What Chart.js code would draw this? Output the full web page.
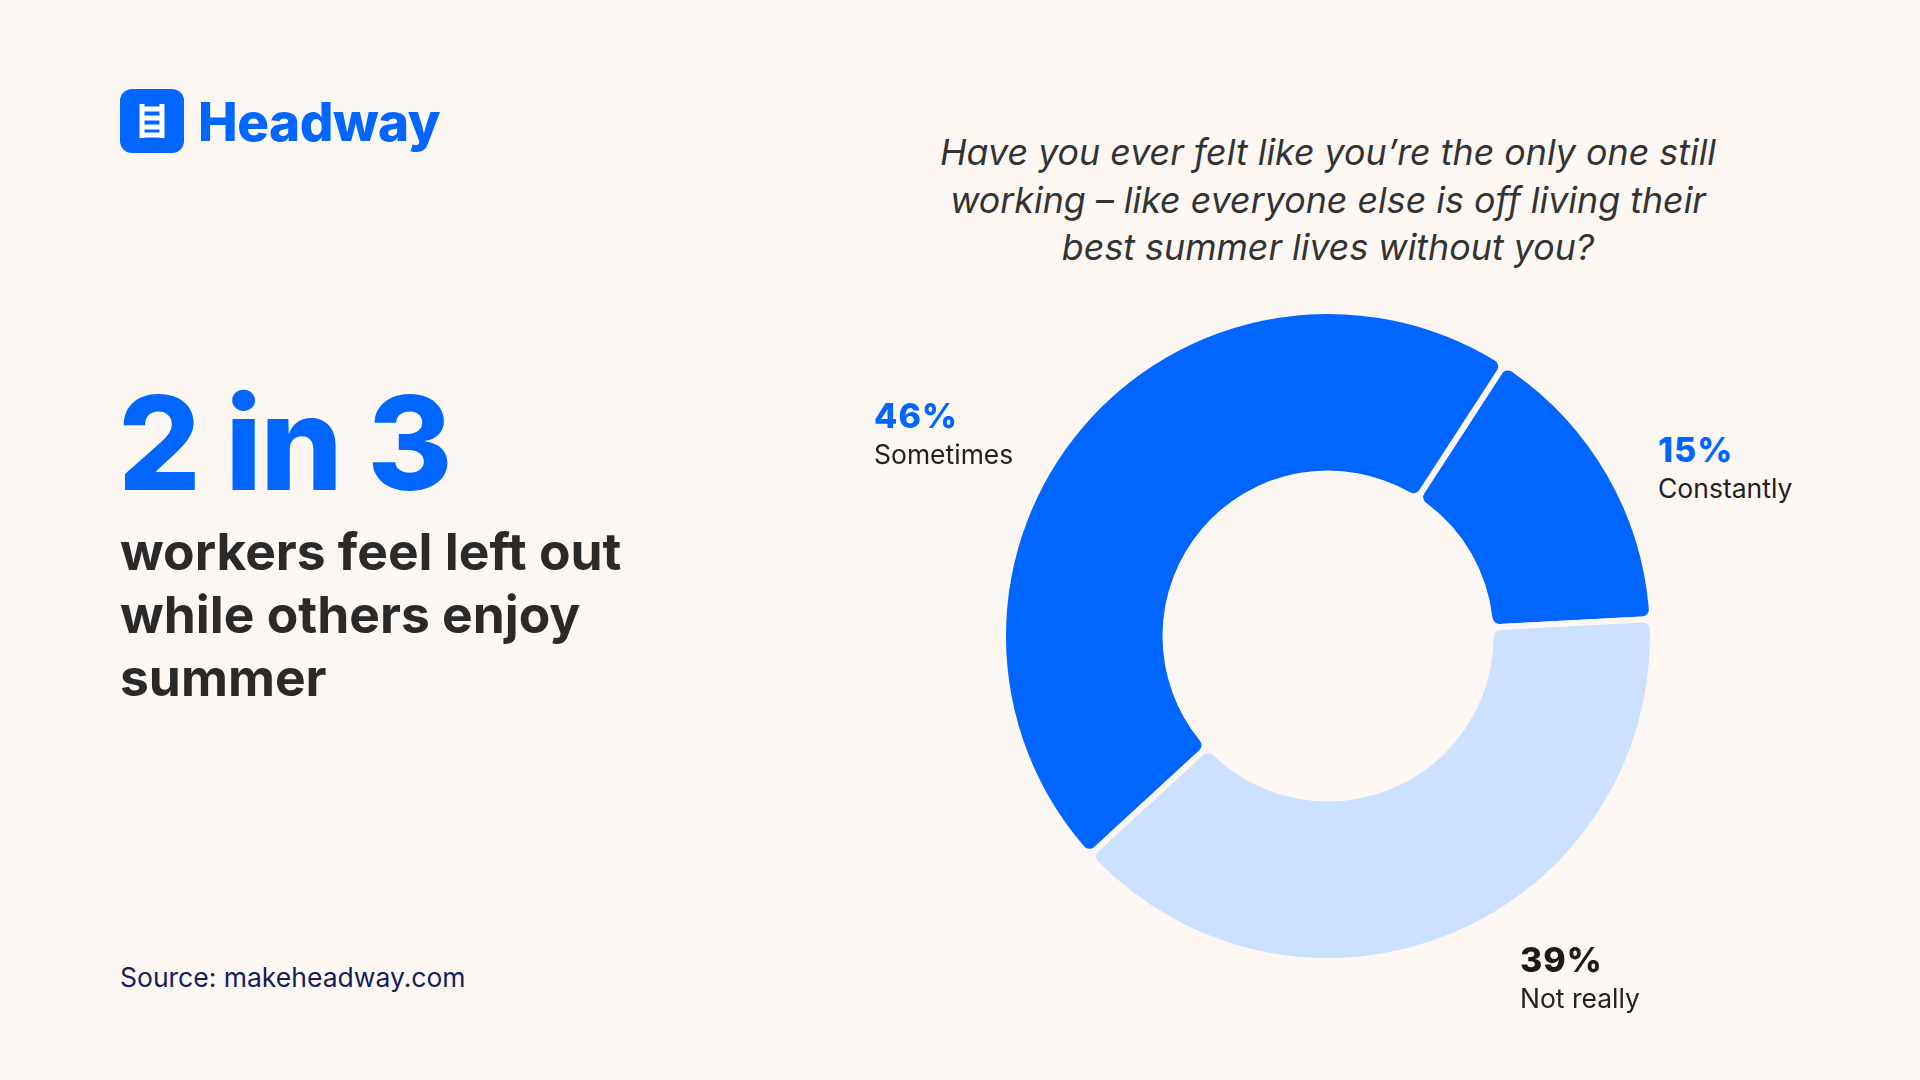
<!DOCTYPE html>
<html><head><meta charset="utf-8">
<script src="https://cdn.jsdelivr.net/npm/chart.js@4"></script>
<style>
body{margin:0;width:1920px;height:1080px;background:#FDF7F4;font-family:Inter,"Noto Sans",sans-serif;position:relative;overflow:hidden}
.a{position:absolute;white-space:nowrap}
</style></head><body>
<svg class="a" style="left:120px;top:89px" width="64" height="64" viewBox="0 0 64 64">
<rect width="64" height="64" rx="12" fill="#0066FF"/>
<g stroke="#fff" stroke-width="5" fill="none"><line x1="22" y1="15" x2="22" y2="49"/><line x1="42" y1="15" x2="42" y2="49"/>
<line x1="22" y1="20" x2="42" y2="20"/><line x1="22" y1="29" x2="42" y2="29"/><line x1="22" y1="38" x2="42" y2="38"/><line x1="22" y1="46" x2="42" y2="46"/></g></svg>
<div class="a" style="left:198px;top:90px;font-size:53px;font-weight:800;color:#0066FF;letter-spacing:-0.5px">Headway</div>
<div class="a" style="left:118px;top:378px;font-size:130px;font-weight:800;color:#0066FF;line-height:1;letter-spacing:-2px">2 in 3</div>
<div class="a" style="left:120px;top:520px;font-size:51.5px;font-weight:700;color:#2a2a2a;line-height:63px">workers feel left out<br>while others enjoy<br>summer</div>
<div class="a" style="left:120px;top:961px;font-size:26.5px;color:#14205a">Source: makeheadway.com</div>
<div class="a" style="left:1328px;top:129px;transform:translateX(-50%);text-align:center;font-size:35.8px;font-style:italic;color:#333;line-height:47.5px">Have you ever felt like you’re the only one still<br>working – like everyone else is off living their<br>best summer lives without you?</div>
<div class="a" style="left:1000px;top:308px;width:656px;height:656px"><canvas id="c"></canvas></div>
<div id="labels"></div>
<script>
const categories=["Constantly","Not really","Sometimes"];
const values=[15,39,46];
const colors=["#0066FF","#CCE0FF","#0066FF"];
const labelColors=["#0066FF","#1a1a1a","#0066FF"];
const labelPos=[[1658,430],[1520,940],[874,396]];
new Chart(document.getElementById('c'),{type:'doughnut',
data:{labels:categories,datasets:[{data:values,backgroundColor:colors,borderColor:'#FDF7F4',borderWidth:6,borderRadius:10,hoverOffset:0}]},
options:{responsive:true,maintainAspectRatio:false,animation:false,cutout:'50%',rotation:33,
plugins:{legend:{display:false},tooltip:{enabled:false}}}});
const L=document.getElementById('labels');
categories.forEach((c,i)=>{L.innerHTML+=`<div class="a" style="left:${labelPos[i][0]}px;top:${labelPos[i][1]}px"><div style="font-size:34px;font-weight:800;color:${labelColors[i]};line-height:40px;letter-spacing:1px">${values[i]}%</div><div style="font-size:26.5px;color:#222;line-height:36px">${c}</div></div>`});
</script>
</body></html>
